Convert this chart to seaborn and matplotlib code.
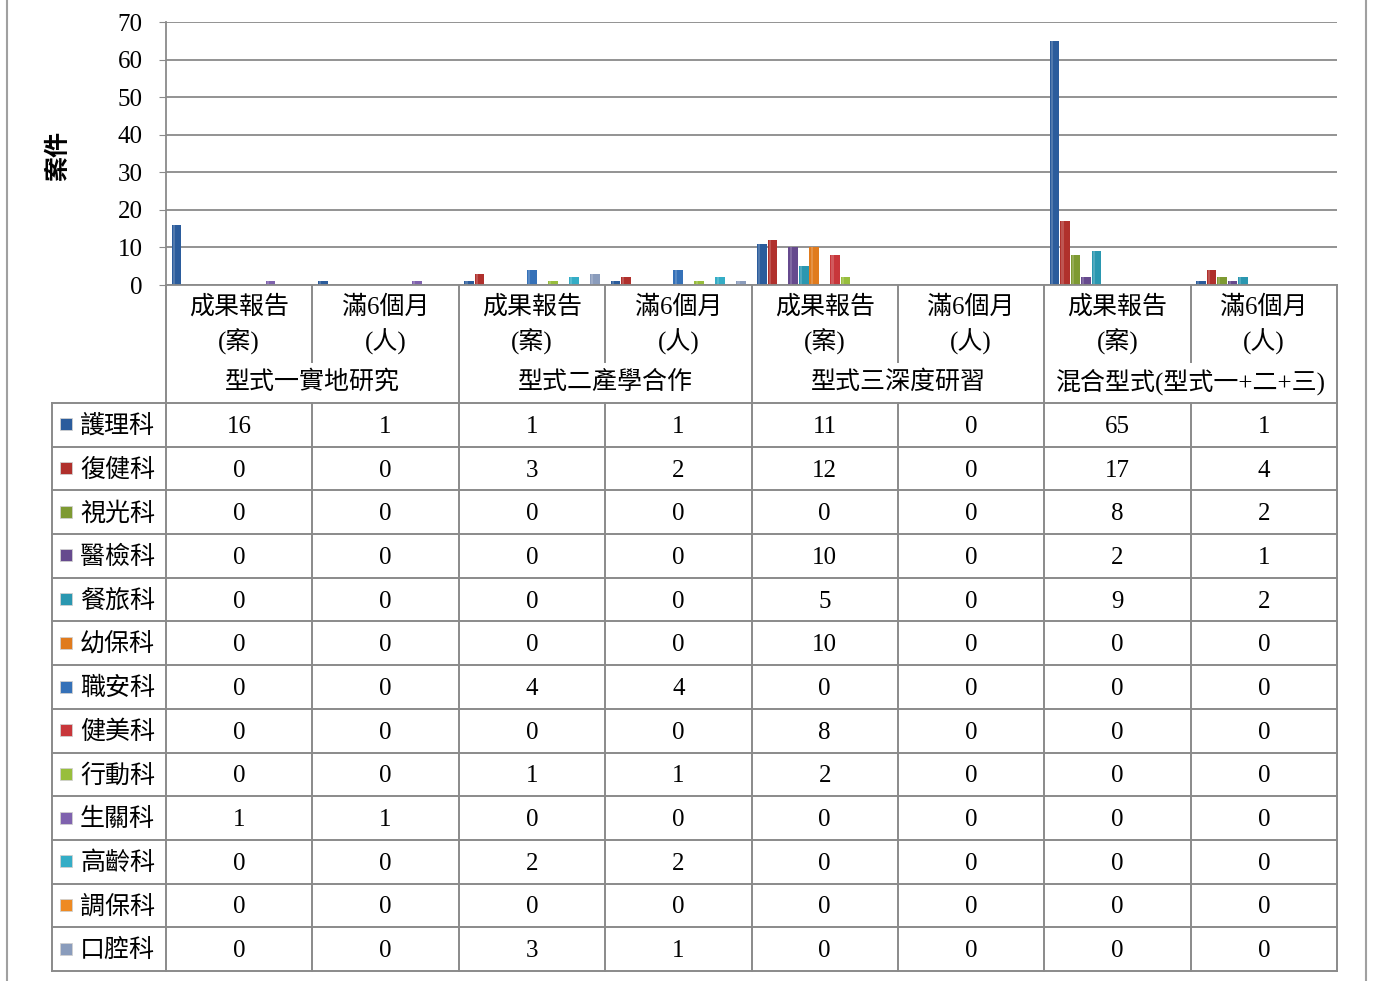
import numpy as np
import pandas as pd
import matplotlib
matplotlib.use("Agg")
import matplotlib.pyplot as plt
from matplotlib.lines import Line2D
from matplotlib.patches import Rectangle
import seaborn as sns

# ---------------- data ----------------
groups = ["型式一實地研究", "型式二產學合作", "型式三深度研習", "混合型式(型式一+二+三)"]
subcats = ["成果報告\n(案)", "滿6個月\n(人)"]
series = ["護理科", "復健科", "視光科", "醫檢科", "餐旅科", "幼保科", "職安科",
          "健美科", "行動科", "生關科", "高齡科", "調保科", "口腔科"]

v_hl = [16, 1, 1, 1, 11, 0, 65, 1]     # 護理科
v_fj = [0, 0, 3, 2, 12, 0, 17, 4]      # 復健科
v_sg = [0, 0, 0, 0, 0, 0, 8, 2]        # 視光科
v_yj = [0, 0, 0, 0, 10, 0, 2, 1]       # 醫檢科
v_cl = [0, 0, 0, 0, 5, 0, 9, 2]        # 餐旅科
v_yb = [0, 0, 0, 0, 10, 0, 0, 0]       # 幼保科
v_za = [0, 0, 4, 4, 0, 0, 0, 0]        # 職安科
v_jm = [0, 0, 0, 0, 8, 0, 0, 0]        # 健美科
v_xd = [0, 0, 1, 1, 2, 0, 0, 0]        # 行動科
v_sgx = [1, 1, 0, 0, 0, 0, 0, 0]       # 生關科
v_gl = [0, 0, 2, 2, 0, 0, 0, 0]        # 高齡科
v_tb = [0, 0, 0, 0, 0, 0, 0, 0]        # 調保科
v_kq = [0, 0, 3, 1, 0, 0, 0, 0]        # 口腔科
values = [v_hl, v_fj, v_sg, v_yj, v_cl, v_yb, v_za, v_jm, v_xd, v_sgx, v_gl, v_tb, v_kq]

yticks = [0, 10, 20, 30, 40, 50, 60, 70]
ylabel = "案件"

colors = ["#2B5C9C", "#B0302C", "#7E9A32", "#664A8E", "#2A97B0", "#E07B1E",
          "#3571B8", "#C8363A", "#98BE3C", "#7F62AE", "#34ADC6", "#EE8A22", "#8A9CBC"]

# ---------------- long table ----------------
cat_ids = [f"{g}|{s}" for g in groups for s in subcats]
rows = []
for sname, vals in zip(series, values):
    for cid, v in zip(cat_ids, vals):
        rows.append({"cat": cid, "series": sname, "value": v})
df = pd.DataFrame(rows)

# ---------------- figure ----------------
W, H = 1373, 981
fig = plt.figure(figsize=(W / 100, H / 100), dpi=100)
fig.patch.set_facecolor("white")

serif_cjk = ["Liberation Serif", "Noto Sans CJK TC"]
plt.rcParams["font.family"] = serif_cjk

px_l, px_r, px_t, px_b = 166, 1337, 22, 285
ax = fig.add_axes([px_l / W, 1 - px_b / H, (px_r - px_l) / W, (px_b - px_t) / H])

sns.barplot(data=df, x="cat", y="value", hue="series", order=cat_ids,
            hue_order=series, palette=colors, width=0.93, gap=0.08,
            legend=False, ax=ax, saturation=1, edgecolor="none")

ax.set_xlim(-0.5, len(cat_ids) - 0.5)
ax.set_ylim(0, 70)
ax.set_yticks(yticks)
ax.set_yticklabels([str(t) for t in yticks], fontsize=18, family="Liberation Serif")
ax.set_xticks([])
ax.set_xlabel("")
ax.set_ylabel(ylabel, fontsize=18, fontweight="bold", family=["Noto Sans CJK TC"])
ax.yaxis.set_label_coords(-(166 - 58) / (px_r - px_l), (px_b - 155) / (px_b - px_t))
ax.yaxis.label.set_va("center")
ax.grid(axis="y", color="#8a8a8a", lw=1.3)
ax.set_axisbelow(True)
for s in ["top", "right"]:
    ax.spines[s].set_visible(False)
for s in ["left", "bottom"]:
    ax.spines[s].set_color("#8a8a8a")
    ax.spines[s].set_linewidth(1.3)
ax.tick_params(axis="y", length=5, color="#8a8a8a", pad=12)

# slight highlight to mimic 3D gradient bars
for p in ax.patches:
    if p.get_height() > 0:
        x0, w, h = p.get_x(), p.get_width(), p.get_height()
        ax.add_patch(Rectangle((x0 + w * 0.12, 0), w * 0.22, h, color="white",
                               alpha=0.18, lw=0, zorder=p.get_zorder() + 0.1))

# ---------------- data table (pixel overlay) ----------------
tab = fig.add_axes([0, 0, 1, 1], zorder=-1)
tab.set_xlim(0, W)
tab.set_ylim(H, 0)
tab.axis("off")
lc, lw = "#8a8a8a", 1.4

ncat = len(cat_ids)
col_w = (px_r - px_l) / ncat
col_x = [px_l + i * col_w for i in range(ncat + 1)]
leg_l = 52
hdr_b = 403
tab_b = 971
row_h = (tab_b - hdr_b) / len(series)

# horizontal lines
for k in range(len(series) + 1):
    y = hdr_b + k * row_h
    tab.plot([leg_l, px_r], [y, y], color=lc, lw=lw)
# vertical lines
tab.plot([leg_l, leg_l], [hdr_b, tab_b], color=lc, lw=lw)
for i, x in enumerate(col_x):
    if i % 2 == 0:
        tab.plot([x, x], [px_b, tab_b], color=lc, lw=lw)
    else:
        tab.plot([x, x], [px_b, 362], color=lc, lw=lw)
        tab.plot([x, x], [hdr_b, tab_b], color=lc, lw=lw)

# header labels
for i, cid in enumerate(cat_ids):
    cx = (col_x[i] + col_x[i + 1]) / 2
    sub = cid.split("|")[1].split("\n")
    tab.text(cx, 307, sub[0], ha="center", va="center", fontsize=18, family=serif_cjk)
    tab.text(cx, 342, sub[1], ha="center", va="center", fontsize=18, family=serif_cjk)
for j, g in enumerate(groups):
    cx = (col_x[2 * j] + col_x[2 * j + 2]) / 2
    tab.text(cx, 382, g, ha="center", va="center", fontsize=18, family=serif_cjk)

# rows
for r, (sname, vals, c) in enumerate(zip(series, values, colors)):
    cy = hdr_b + (r + 0.5) * row_h
    tab.add_patch(Rectangle((60, cy - 6.5), 12, 12, facecolor=c, edgecolor="#d0d0d0", lw=0.6))
    tab.text(80, cy + 1.5, sname, ha="left", va="center", fontsize=18, family=serif_cjk)
    for i, v in enumerate(vals):
        cx = (col_x[i] + col_x[i + 1]) / 2
        tab.text(cx, cy + 2, str(v), ha="center", va="center", fontsize=18, family="Liberation Serif")

# outer chart frame
for x in (7, 1366):
    fig.add_artist(Line2D([x / W, x / W], [0, 1], color="#a0a0a0", lw=1.5))

fig.savefig("out.png", dpi=100, facecolor="white")
